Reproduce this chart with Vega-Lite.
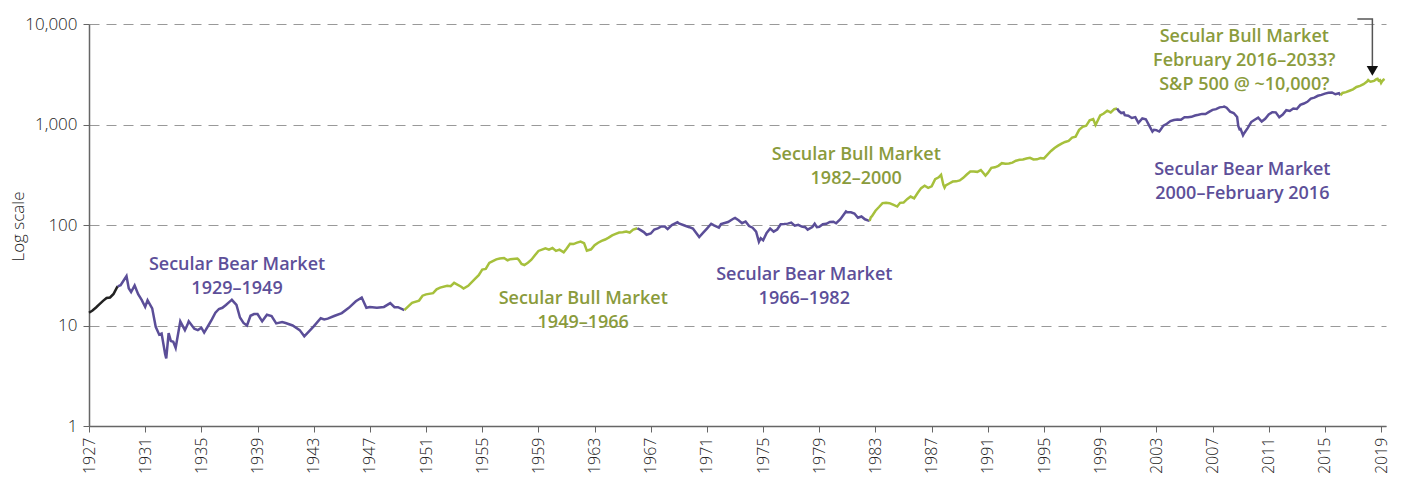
{
  "$schema": "https://vega.github.io/schema/vega-lite/v6.json",
  "width": 1297,
  "height": 402,
  "autosize": {"type": "none"},
  "padding": {"left": 89, "top": 24, "right": 15, "bottom": 57},
  "config": {"view": {"stroke": null}},
  "datasets": {
    "pre": [
      {"t":1927.0,"v":13.4},{"t":1927.25,"v":14.1},{"t":1927.5,"v":15.1},{"t":1927.75,"v":16.3},{"t":1928.0,"v":17.6},{"t":1928.25,"v":18.8},{"t":1928.5,"v":19.0},{"t":1928.75,"v":20.6},{"t":1929.0,"v":24.0},{"t":1929.05,"v":24.5}
    ],
    "bear1": [
      {"t":1929.05,"v":24.5},{"t":1929.25,"v":25.2},{"t":1929.5,"v":28.5},{"t":1929.67,"v":31.0},{"t":1929.83,"v":23.5},{"t":1930.0,"v":21.5},{"t":1930.25,"v":25.0},{"t":1930.5,"v":20.5},{"t":1930.75,"v":18.0},{"t":1931.0,"v":15.3},{"t":1931.17,"v":17.8},{"t":1931.5,"v":14.8},{"t":1931.75,"v":9.7},{"t":1932.0,"v":8.1},{"t":1932.17,"v":8.3},{"t":1932.42,"v":5.2},{"t":1932.5,"v":4.7},{"t":1932.67,"v":8.4},{"t":1932.83,"v":7.0},{"t":1933.0,"v":6.9},{"t":1933.17,"v":6.0},{"t":1933.5,"v":11.0},{"t":1933.83,"v":9.0},{"t":1934.0,"v":10.1},{"t":1934.1,"v":11.0},{"t":1934.5,"v":9.3},{"t":1934.75,"v":9.0},{"t":1935.0,"v":9.5},{"t":1935.2,"v":8.5},{"t":1935.5,"v":10.0},{"t":1935.75,"v":11.5},{"t":1936.0,"v":13.4},{"t":1936.25,"v":14.6},{"t":1936.5,"v":15.0},{"t":1936.75,"v":16.0},{"t":1937.0,"v":17.2},{"t":1937.17,"v":18.0},{"t":1937.5,"v":16.0},{"t":1937.75,"v":12.0},{"t":1938.0,"v":10.6},{"t":1938.25,"v":10.0},{"t":1938.5,"v":12.5},{"t":1938.75,"v":13.0},{"t":1939.0,"v":13.0},{"t":1939.33,"v":11.0},{"t":1939.67,"v":12.8},{"t":1940.0,"v":12.4},{"t":1940.33,"v":10.5},{"t":1940.75,"v":10.8},{"t":1941.0,"v":10.6},{"t":1941.5,"v":10.0},{"t":1942.0,"v":9.0},{"t":1942.33,"v":7.8},{"t":1942.75,"v":9.0},{"t":1943.0,"v":9.8},{"t":1943.5,"v":11.8},{"t":1943.75,"v":11.5},{"t":1944.0,"v":11.7},{"t":1944.5,"v":12.5},{"t":1945.0,"v":13.3},{"t":1945.5,"v":15.0},{"t":1946.0,"v":17.4},{"t":1946.42,"v":19.0},{"t":1946.75,"v":15.0},{"t":1947.0,"v":15.3},{"t":1947.5,"v":15.0},{"t":1948.0,"v":15.3},{"t":1948.45,"v":16.7},{"t":1948.75,"v":15.2},{"t":1949.0,"v":15.2},{"t":1949.45,"v":14.2}
    ],
    "bull1": [
      {"t":1949.45,"v":14.2},{"t":1949.75,"v":15.6},{"t":1950.0,"v":16.8},{"t":1950.5,"v":17.7},{"t":1950.75,"v":19.8},{"t":1951.0,"v":20.4},{"t":1951.5,"v":21.0},{"t":1951.75,"v":22.9},{"t":1952.0,"v":23.8},{"t":1952.5,"v":24.9},{"t":1952.75,"v":24.6},{"t":1953.0,"v":26.6},{"t":1953.5,"v":24.3},{"t":1953.67,"v":23.3},{"t":1954.0,"v":24.8},{"t":1954.5,"v":29.2},{"t":1954.75,"v":31.7},{"t":1955.0,"v":36.0},{"t":1955.25,"v":36.6},{"t":1955.5,"v":42.0},{"t":1955.75,"v":43.7},{"t":1956.0,"v":45.5},{"t":1956.25,"v":46.5},{"t":1956.55,"v":47.0},{"t":1956.8,"v":44.6},{"t":1957.0,"v":45.7},{"t":1957.5,"v":46.4},{"t":1957.6,"v":45.0},{"t":1957.8,"v":41.0},{"t":1958.0,"v":40.0},{"t":1958.25,"v":42.1},{"t":1958.5,"v":45.2},{"t":1958.75,"v":50.0},{"t":1959.0,"v":55.2},{"t":1959.5,"v":58.5},{"t":1959.75,"v":56.9},{"t":1960.0,"v":59.0},{"t":1960.25,"v":55.3},{"t":1960.5,"v":56.9},{"t":1960.8,"v":53.4},{"t":1961.0,"v":58.1},{"t":1961.25,"v":65.1},{"t":1961.5,"v":64.6},{"t":1961.75,"v":66.7},{"t":1962.0,"v":68.5},{"t":1962.25,"v":66.0},{"t":1962.45,"v":55.5},{"t":1962.75,"v":57.3},{"t":1963.0,"v":63.1},{"t":1963.25,"v":66.6},{"t":1963.5,"v":69.4},{"t":1963.75,"v":71.7},{"t":1964.0,"v":75.0},{"t":1964.25,"v":78.9},{"t":1964.5,"v":81.7},{"t":1964.75,"v":84.2},{"t":1965.0,"v":84.8},{"t":1965.25,"v":86.2},{"t":1965.5,"v":84.1},{"t":1965.75,"v":89.9},{"t":1966.0,"v":92.4},{"t":1966.05,"v":92.9}
    ],
    "bear2": [
      {"t":1966.05,"v":92.9},{"t":1966.25,"v":89.5},{"t":1966.5,"v":85.0},{"t":1966.7,"v":80.0},{"t":1967.0,"v":82.3},{"t":1967.25,"v":90.2},{"t":1967.5,"v":92.6},{"t":1967.75,"v":96.7},{"t":1968.0,"v":96.5},{"t":1968.2,"v":91.1},{"t":1968.5,"v":99.7},{"t":1968.9,"v":106.4},{"t":1969.0,"v":103.9},{"t":1969.5,"v":97.7},{"t":1969.75,"v":95.1},{"t":1970.0,"v":92.1},{"t":1970.45,"v":76.0},{"t":1970.75,"v":84.3},{"t":1971.0,"v":92.2},{"t":1971.3,"v":102.9},{"t":1971.5,"v":99.0},{"t":1971.85,"v":93.9},{"t":1972.0,"v":102.1},{"t":1972.5,"v":107.1},{"t":1972.9,"v":116.0},{"t":1973.0,"v":117.5},{"t":1973.25,"v":111.5},{"t":1973.5,"v":104.3},{"t":1973.75,"v":108.4},{"t":1974.0,"v":97.6},{"t":1974.25,"v":93.98},{"t":1974.5,"v":86.0},{"t":1974.7,"v":68.0},{"t":1974.83,"v":73.9},{"t":1975.0,"v":70.6},{"t":1975.25,"v":83.4},{"t":1975.5,"v":92.2},{"t":1975.75,"v":85.9},{"t":1976.0,"v":90.2},{"t":1976.25,"v":101.8},{"t":1976.5,"v":102.3},{"t":1976.75,"v":103.2},{"t":1977.0,"v":105.5},{"t":1977.25,"v":98.4},{"t":1977.5,"v":100.5},{"t":1977.75,"v":96.5},{"t":1978.0,"v":95.1},{"t":1978.17,"v":90.0},{"t":1978.5,"v":95.5},{"t":1978.67,"v":102.9},{"t":1978.83,"v":95.2},{"t":1979.0,"v":96.1},{"t":1979.25,"v":101.6},{"t":1979.5,"v":102.9},{"t":1979.75,"v":107.3},{"t":1980.0,"v":107.9},{"t":1980.2,"v":104.1},{"t":1980.5,"v":114.2},{"t":1980.9,"v":136.5},{"t":1981.0,"v":133.8},{"t":1981.25,"v":134.0},{"t":1981.5,"v":130.2},{"t":1981.75,"v":118.2},{"t":1982.0,"v":121.6},{"t":1982.25,"v":114.0},{"t":1982.5,"v":110.6},{"t":1982.58,"v":110.0}
    ],
    "bull2": [
      {"t":1982.58,"v":110.0},{"t":1982.67,"v":119.5},{"t":1982.75,"v":122.4},{"t":1983.0,"v":138.6},{"t":1983.25,"v":150.96},{"t":1983.5,"v":165.1},{"t":1983.75,"v":166.1},{"t":1984.0,"v":164.9},{"t":1984.25,"v":159.2},{"t":1984.55,"v":152.7},{"t":1984.75,"v":166.1},{"t":1985.0,"v":167.2},{"t":1985.25,"v":180.7},{"t":1985.5,"v":191.9},{"t":1985.75,"v":184.1},{"t":1986.0,"v":208.3},{"t":1986.25,"v":232.9},{"t":1986.5,"v":245.8},{"t":1986.75,"v":234.3},{"t":1987.0,"v":242.2},{"t":1987.25,"v":285.7},{"t":1987.5,"v":298.0},{"t":1987.67,"v":315.8},{"t":1987.83,"v":251.8},{"t":1987.92,"v":235.3},{"t":1988.0,"v":247.1},{"t":1988.25,"v":258.9},{"t":1988.5,"v":270.5},{"t":1988.75,"v":271.9},{"t":1989.0,"v":277.7},{"t":1989.25,"v":294.9},{"t":1989.5,"v":317.98},{"t":1989.75,"v":340.2},{"t":1990.0,"v":340.4},{"t":1990.25,"v":337.9},{"t":1990.5,"v":352.0},{"t":1990.83,"v":310.0},{"t":1991.0,"v":330.2},{"t":1991.25,"v":370.2},{"t":1991.5,"v":375.2},{"t":1991.75,"v":387.9},{"t":1992.0,"v":412.1},{"t":1992.25,"v":406.7},{"t":1992.5,"v":410.1},{"t":1992.75,"v":417.8},{"t":1993.0,"v":435.7},{"t":1993.25,"v":445.7},{"t":1993.5,"v":448.5},{"t":1993.75,"v":458.9},{"t":1994.0,"v":466.5},{"t":1994.25,"v":448.8},{"t":1994.5,"v":450.3},{"t":1994.75,"v":462.7},{"t":1995.0,"v":459.3},{"t":1995.25,"v":500.7},{"t":1995.5,"v":544.8},{"t":1995.75,"v":584.4},{"t":1996.0,"v":615.9},{"t":1996.25,"v":645.5},{"t":1996.5,"v":670.6},{"t":1996.75,"v":687.3},{"t":1997.0,"v":740.7},{"t":1997.25,"v":757.1},{"t":1997.5,"v":885.1},{"t":1997.75,"v":947.3},{"t":1998.0,"v":970.4},{"t":1998.25,"v":1101.8},{"t":1998.5,"v":1133.8},{"t":1998.67,"v":990.0},{"t":1998.75,"v":1040.0},{"t":1999.0,"v":1229.2},{"t":1999.25,"v":1286.4},{"t":1999.5,"v":1372.7},{"t":1999.75,"v":1320.0},{"t":2000.0,"v":1420.3},{"t":2000.2,"v":1440.6}
    ],
    "bear3": [
      {"t":2000.2,"v":1440.6},{"t":2000.33,"v":1360.4},{"t":2000.5,"v":1300.6},{"t":2000.67,"v":1317.7},{"t":2000.75,"v":1236.5},{"t":2001.0,"v":1220.3},{"t":2001.25,"v":1160.3},{"t":2001.5,"v":1184.4},{"t":2001.72,"v":1040.9},{"t":2002.0,"v":1148.1},{"t":2002.25,"v":1127.4},{"t":2002.5,"v":969.8},{"t":2002.72,"v":850.3},{"t":2002.83,"v":885.8},{"t":2003.0,"v":879.8},{"t":2003.2,"v":851.2},{"t":2003.25,"v":868.2},{"t":2003.5,"v":974.5},{"t":2003.75,"v":1016.0},{"t":2004.0,"v":1081.9},{"t":2004.25,"v":1106.2},{"t":2004.5,"v":1120.8},{"t":2004.75,"v":1114.6},{"t":2005.0,"v":1181.9},{"t":2005.25,"v":1180.6},{"t":2005.5,"v":1191.3},{"t":2005.75,"v":1228.8},{"t":2006.0,"v":1248.3},{"t":2006.25,"v":1274.8},{"t":2006.5,"v":1270.2},{"t":2006.75,"v":1335.9},{"t":2007.0,"v":1398.3},{"t":2007.25,"v":1420.9},{"t":2007.5,"v":1480.4},{"t":2007.75,"v":1496.8},{"t":2007.83,"v":1509.4},{"t":2008.0,"v":1468.4},{"t":2008.25,"v":1342.7},{"t":2008.5,"v":1300.0},{"t":2008.75,"v":1186.4},{"t":2008.83,"v":968.8},{"t":2008.92,"v":896.2},{"t":2009.0,"v":903.3},{"t":2009.17,"v":780.1},{"t":2009.25,"v":817.9},{"t":2009.5,"v":919.3},{"t":2009.75,"v":1057.1},{"t":2010.0,"v":1115.1},{"t":2010.25,"v":1169.4},{"t":2010.5,"v":1070.7},{"t":2010.75,"v":1141.2},{"t":2011.0,"v":1257.6},{"t":2011.25,"v":1325.8},{"t":2011.5,"v":1320.6},{"t":2011.75,"v":1181.4},{"t":2012.0,"v":1257.6},{"t":2012.25,"v":1388.5},{"t":2012.5,"v":1362.2},{"t":2012.75,"v":1440.7},{"t":2013.0,"v":1426.2},{"t":2013.25,"v":1569.2},{"t":2013.5,"v":1616.3},{"t":2013.75,"v":1681.6},{"t":2014.0,"v":1808.4},{"t":2014.25,"v":1852.3},{"t":2014.5,"v":1930.2},{"t":2014.75,"v":1972.3},{"t":2015.0,"v":2028.9},{"t":2015.25,"v":2067.9},{"t":2015.5,"v":2083.1},{"t":2015.75,"v":2000.0},{"t":2016.0,"v":2043.9},{"t":2016.1,"v":1960.2}
    ],
    "bull3": [
      {"t":2016.1,"v":1960.2},{"t":2016.17,"v":1992.2},{"t":2016.25,"v":2059.7},{"t":2016.5,"v":2098.9},{"t":2016.75,"v":2168.3},{"t":2017.0,"v":2238.8},{"t":2017.25,"v":2362.7},{"t":2017.5,"v":2423.4},{"t":2017.75,"v":2519.4},{"t":2018.0,"v":2673.6},{"t":2018.08,"v":2763.8},{"t":2018.17,"v":2693.8},{"t":2018.25,"v":2660.9},{"t":2018.5,"v":2718.4},{"t":2018.67,"v":2821.5},{"t":2018.75,"v":2850.0},{"t":2018.83,"v":2731.7},{"t":2018.92,"v":2760.2},{"t":2019.0,"v":2586.9},{"t":2019.08,"v":2704.1},{"t":2019.17,"v":2784.5},{"t":2019.25,"v":2834.4}
    ],
    "labels": [
      {"t":1937.54,"v":40.0,"kind":"bear","label":"Secular Bear Market\n1929–1949"},
      {"t":1962.19,"v":18.4,"kind":"bull","label":"Secular Bull Market\n1949–1966"},
      {"t":1977.93,"v":31.8,"kind":"bear","label":"Secular Bear Market\n1966–1982"},
      {"t":1981.63,"v":492,"kind":"bull","label":"Secular Bull Market\n1982–2000"},
      {"t":2009.12,"v":352,"kind":"bear","label":"Secular Bear Market\n2000–February 2016"},
      {"t":2009.26,"v":7430,"kind":"bull","label":"Secular Bull Market\nFebruary 2016–2033?\nS&P 500 @ ~10,000?"}
    ],
    "arrow": [
      {"t":2017.31,"v":11220},{"t":2018.38,"v":11220},{"t":2018.38,"v":3820}
    ],
    "arrowhead": [
      {"t":2018.38,"v":3420}
    ]
  },
  "encoding": {
    "x": {
      "field": "t", "type": "quantitative",
      "scale": {"domain": [1927, 2019.35], "nice": false, "zero": false},
      "axis": {
        "values": [1927,1931,1935,1939,1943,1947,1951,1955,1959,1963,1967,1971,1975,1979,1983,1987,1991,1995,1999,2003,2007,2011,2015,2019],
        "format": "d", "labelAngle": -90, "labelAlign": "right", "labelBaseline": "middle",
        "labelFont": "Open Sans", "labelFontSize": 16, "labelFontWeight": 300, "labelColor": "#222", "labelPadding": 5,
        "tickColor": "#666", "tickSize": 6, "domainColor": "#666", "domainWidth": 1.5,
        "grid": false, "title": null, "labelOverlap": false, "labelFlush": false
      }
    },
    "y": {
      "field": "v", "type": "quantitative",
      "scale": {"type": "log", "domain": [1, 10000], "nice": false},
      "axis": {
        "values": [1, 10, 100, 1000, 10000], "format": ",",
        "labelFont": "Open Sans", "labelFontSize": 17, "labelFontWeight": 300, "labelColor": "#222", "labelPadding": 6,
        "tickColor": "#666", "tickSize": 6, "domainColor": "#666", "domainWidth": 1.5,
        "grid": true, "gridColor": "#999", "gridDash": [10, 7], "gridWidth": 1,
        "title": "Log scale", "titleFont": "Open Sans", "titleFontSize": 17, "titleFontWeight": 300,
        "titleColor": "#222", "titleX": -71, "titleY": 202, "titleAngle": 270, "titleAlign": "center", "titleBaseline": "middle"
      }
    }
  },
  "layer": [
    {"data": {"name": "pre"}, "mark": {"type": "line", "color": "#222", "strokeWidth": 2.5}},
    {"data": {"name": "bear1"}, "mark": {"type": "line", "color": "#5b4e98", "strokeWidth": 2.5}},
    {"data": {"name": "bull1"}, "mark": {"type": "line", "color": "#a6c03c", "strokeWidth": 2.5}},
    {"data": {"name": "bear2"}, "mark": {"type": "line", "color": "#5b4e98", "strokeWidth": 2.5}},
    {"data": {"name": "bull2"}, "mark": {"type": "line", "color": "#a6c03c", "strokeWidth": 2.5}},
    {"data": {"name": "bear3"}, "mark": {"type": "line", "color": "#5b4e98", "strokeWidth": 2.5}},
    {"data": {"name": "bull3"}, "mark": {"type": "line", "color": "#a6c03c", "strokeWidth": 2.5}},
    {"data": {"name": "arrow"}, "mark": {"type": "line", "color": "#555", "strokeWidth": 1.5}},
    {"data": {"name": "arrowhead"}, "mark": {"type": "point", "shape": "triangle-down", "filled": true, "color": "#111", "size": 130, "opacity": 1}},
    {
      "data": {"name": "labels"},
      "mark": {"type": "text", "font": "Open Sans", "fontSize": 18, "fontWeight": 600, "lineBreak": "\n", "lineHeight": 24, "align": "center", "baseline": "middle"},
      "encoding": {
        "text": {"field": "label"},
        "color": {"field": "kind", "type": "nominal", "scale": {"domain": ["bear", "bull"], "range": ["#5d4f99", "#8a9b3c"]}, "legend": null}
      }
    }
  ]
}
